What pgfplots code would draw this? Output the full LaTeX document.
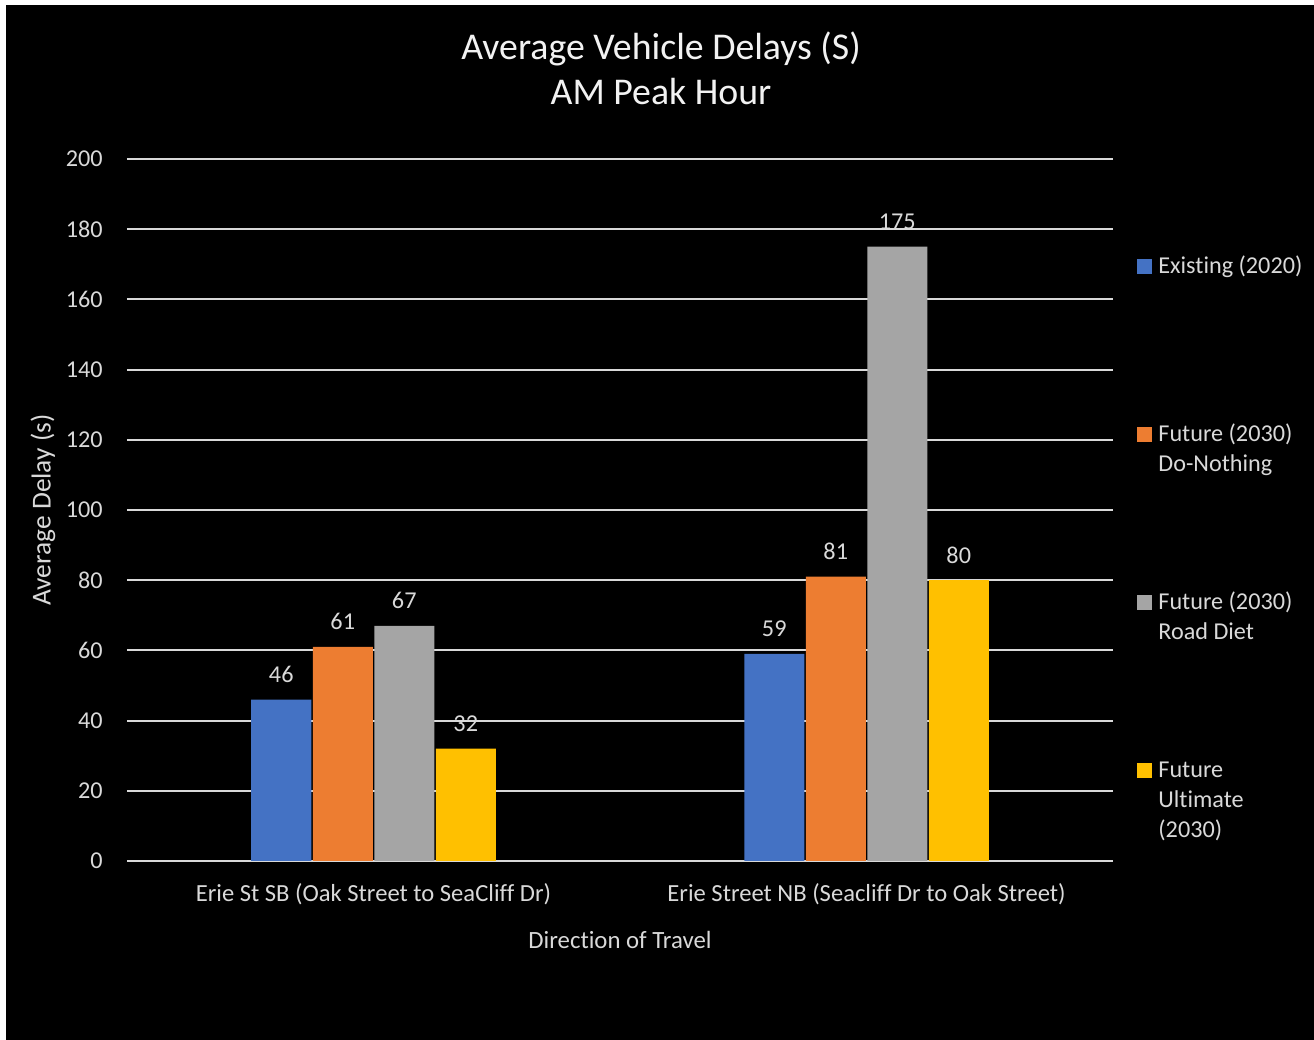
\documentclass[border=0pt]{standalone}
\usepackage{fontspec}
\setmainfont{Carlito}[Ligatures={NoCommon,NoContextual,NoRequired}, Contextuals={NoAlternate}]
\usepackage{pgfplots}
\pgfplotsset{compat=1.18}
\definecolor{cblue}{HTML}{4472C4}
\definecolor{corange}{HTML}{ED7D31}
\definecolor{cgray}{HTML}{A5A5A5}
\definecolor{cgold}{HTML}{FFC000}
\definecolor{txt}{HTML}{D9D9D9}
\definecolor{titlec}{HTML}{F2F2F2}
\definecolor{gridc}{HTML}{D9D9D9}
\begin{document}
\begin{tikzpicture}
\fill[white] (0,0) rectangle (657pt,520pt);
\fill[black] (3pt,0) rectangle (657pt,517.5pt);
\begin{axis}[
  at={(63.5pt,89.5pt)}, anchor=south west,
  scale only axis, width=493pt, height=351pt,
  xmin=-0.5, xmax=1.5, ymin=0, ymax=200,
  xtick={0,1},
  xticklabels={Erie St SB (Oak Street to SeaCliff Dr), Erie Street NB (Seacliff Dr to Oak Street)},
  ytick={0,20,...,200},
  major tick length=0pt,
  axis line style={draw=none},
  ymajorgrids, grid style={line width=1pt, color=gridc},
  ybar=0.75pt, bar width=30pt,
  /pgf/number format/assume math mode=true,
  tick label style={font=\fontsize{12.1}{14}\selectfont, color=txt},
  xticklabel style={anchor=base, yshift=-20.5pt, font=\fontsize{12.3}{14}\selectfont},
  yticklabel style={anchor=east, inner sep=0pt, xshift=-12pt},
  ylabel={Average Delay (s)},
  ylabel style={at={(axis description cs:-0.0852,0.5)}, anchor=center, font=\fontsize{13.7}{16}\selectfont, color=txt},
  xlabel={Direction of Travel},
  xlabel style={at={(axis description cs:0.5,0)}, anchor=base, yshift=-44pt, font=\fontsize{12.4}{15}\selectfont, color=txt},
  nodes near coords,
  nodes near coords style={font=\fontsize{12.1}{14}\selectfont, color=txt},
  every node near coord/.append style={anchor=base, yshift=8.5pt},
]
\addplot[fill=cblue, draw=none] coordinates {(0,46) (1,59)};
\addplot[fill=corange, draw=none] coordinates {(0,61) (1,81)};
\addplot[fill=cgray, draw=none] coordinates {(0,67) (1,175)};
\addplot[fill=cgold, draw=none] coordinates {(0,32) (1,80)};
\end{axis}
% legend
\begin{scope}[every node/.style={anchor=base west, inner sep=0pt, text=txt, font=\fontsize{12.1}{15}\selectfont}]
\fill[cblue] (568.5pt,383pt) rectangle (576pt,390.5pt);
\node at (579pt,383pt) {\parbox[t]{75pt}{Existing (2020)}};
\fill[corange] (568.5pt,299pt) rectangle (576pt,306.5pt);
\node at (579pt,299pt) {\parbox[t]{75pt}{Future (2030)\\Do-Nothing}};
\fill[cgray] (568.5pt,215pt) rectangle (576pt,222.5pt);
\node at (579pt,215pt) {\parbox[t]{75pt}{Future (2030)\\Road Diet}};
\fill[cgold] (568.5pt,131pt) rectangle (576pt,138.5pt);
\node at (579pt,131pt) {\parbox[t]{75pt}{Future\\Ultimate\\(2030)}};
\end{scope}
\node[anchor=base, font=\fontsize{18.9}{22}\selectfont, text=titlec] at (330.5pt,490pt) {Average Vehicle Delays (S)};
\node[anchor=base, font=\fontsize{18.9}{22}\selectfont, text=titlec] at (330.5pt,467.5pt) {AM Peak Hour};
\end{tikzpicture}
\end{document}
